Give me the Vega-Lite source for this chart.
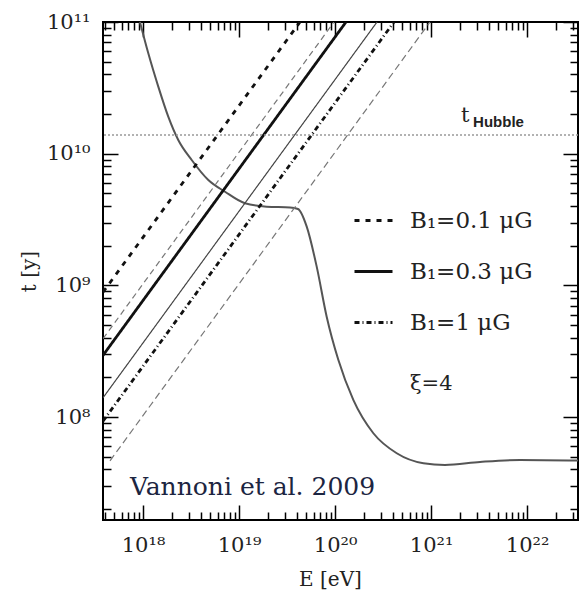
{
  "$schema": "https://vega.github.io/schema/vega-lite/v6.json",
  "width": 475,
  "height": 498,
  "autosize": {"type": "none"},
  "padding": {"left": 103, "top": 22, "right": 6, "bottom": 74},
  "background": "white",
  "config": {"view": {"stroke": "black", "strokeWidth": 2}, "font": "DejaVu Serif"},
  "datasets": {
    "lines": [
      {"line": "A", "style": "B₁=0.1 μG", "kind": "thick", "E": 3.83e17, "t": 8.87e8},
      {"line": "A", "style": "B₁=0.1 μG", "kind": "thick", "E": 4.315e19, "t": 1e11},
      {"line": "B", "style": "b0.1", "kind": "light", "E": 3.83e17, "t": 3.93e8},
      {"line": "B", "style": "b0.1", "kind": "light", "E": 9.75e19, "t": 1e11},
      {"line": "C", "style": "B₁=0.3 μG", "kind": "thick", "E": 3.83e17, "t": 2.94e8},
      {"line": "C", "style": "B₁=0.3 μG", "kind": "thick", "E": 1.30e20, "t": 1e11},
      {"line": "D", "style": "b0.3", "kind": "thin", "E": 3.83e17, "t": 1.40e8},
      {"line": "D", "style": "b0.3", "kind": "thin", "E": 2.735e20, "t": 1e11},
      {"line": "E", "style": "B₁=1 μG", "kind": "thick", "E": 3.83e17, "t": 9.31e7},
      {"line": "E", "style": "B₁=1 μG", "kind": "thick", "E": 4.11e20, "t": 1e11},
      {"line": "F", "style": "b1", "kind": "light", "E": 4.53e17, "t": 4.65e7},
      {"line": "F", "style": "b1", "kind": "light", "E": 9.75e20, "t": 1e11}
    ],
    "curve": [
      {"E": 9.29e17, "t": 1.0e11},
      {"E": 1.135e18, "t": 5.78e10},
      {"E": 1.442e18, "t": 3.23e10},
      {"E": 1.832e18, "t": 1.91e10},
      {"E": 2.328e18, "t": 1.27e10},
      {"E": 3.214e18, "t": 8.95e9},
      {"E": 4.786e18, "t": 6.31e9},
      {"E": 7.145e18, "t": 5.14e9},
      {"E": 1.153e19, "t": 4.20e9},
      {"E": 1.941e19, "t": 3.96e9},
      {"E": 3.396e19, "t": 3.91e9},
      {"E": 4.11e19, "t": 3.80e9},
      {"E": 5.07e19, "t": 2.79e9},
      {"E": 6.44e19, "t": 1.387e9},
      {"E": 8.18e19, "t": 5.78e8},
      {"E": 1.081e20, "t": 2.72e8},
      {"E": 1.549e20, "t": 1.349e8},
      {"E": 2.506e20, "t": 7.53e7},
      {"E": 4.39e20, "t": 5.31e7},
      {"E": 8.32e20, "t": 4.46e7},
      {"E": 1.396e21, "t": 4.33e7},
      {"E": 3.236e21, "t": 4.56e7},
      {"E": 8.45e21, "t": 4.72e7},
      {"E": 3.396e22, "t": 4.67e7}
    ]
  },
  "layer": [
    {
      "data": {"name": "curve"},
      "mark": {"type": "line", "color": "#555", "strokeWidth": 2, "interpolate": "monotone"},
      "encoding": {
        "x": {
          "field": "E", "type": "quantitative",
          "scale": {"type": "log", "domain": [3.83e17, 3.39e22], "nice": false},
          "axis": {
            "orient": "bottom",
            "values": [1e18, 1e19, 1e20, 1e21, 1e22],
            "labelExpr": "'10' + (round(log(datum.value)/LN10) >= 10 ? substring('⁰¹²³⁴⁵⁶⁷⁸⁹', floor(round(log(datum.value)/LN10)/10), floor(round(log(datum.value)/LN10)/10)+1) : '') + substring('⁰¹²³⁴⁵⁶⁷⁸⁹', round(log(datum.value)/LN10) % 10, round(log(datum.value)/LN10) % 10 + 1)",
            "ticks": true, "tickSize": -15, "tickColor": "black", "tickWidth": 1.5,
            "domain": false,
            "labelFont": "DejaVu Serif", "labelFontSize": 21, "labelColor": "#222",
            "labelPadding": 29, "labelOverlap": false, "labelFlush": false,
            "grid": false,
            "title": "E  [eV]", "titleFont": "DejaVu Serif", "titleFontSize": 20,
            "titleFontWeight": "normal", "titleColor": "#222", "titlePadding": 14,
            "titleX": 227
          }
        },
        "y": {
          "field": "t", "type": "quantitative",
          "scale": {"type": "log", "domain": [1.652e7, 1e11], "nice": false},
          "axis": {
            "orient": "left",
            "values": [1e8, 1e9, 1e10, 1e11],
            "labelExpr": "'10' + (round(log(datum.value)/LN10) >= 10 ? substring('⁰¹²³⁴⁵⁶⁷⁸⁹', floor(round(log(datum.value)/LN10)/10), floor(round(log(datum.value)/LN10)/10)+1) : '') + substring('⁰¹²³⁴⁵⁶⁷⁸⁹', round(log(datum.value)/LN10) % 10, round(log(datum.value)/LN10) % 10 + 1)",
            "ticks": true, "tickSize": -15, "tickColor": "black", "tickWidth": 1.5,
            "domain": false,
            "labelFont": "DejaVu Serif", "labelFontSize": 21, "labelColor": "#222",
            "labelPadding": 28, "labelOverlap": false, "labelFlush": false,
            "grid": false,
            "title": "t  [y]", "titleFont": "DejaVu Serif", "titleFontSize": 20,
            "titleFontWeight": "normal", "titleColor": "#222", "titlePadding": 7
          }
        }
      }
    },
    {
      "data": {"name": "curve"},
      "mark": {"type": "point", "opacity": 0},
      "encoding": {
        "x": {
          "field": "E", "type": "quantitative",
          "axis": {
            "orient": "bottom",
            "values": [4e17,5e17,6e17,7e17,8e17,9e17,2e18,3e18,4e18,5e18,6e18,7e18,8e18,9e18,2e19,3e19,4e19,5e19,6e19,7e19,8e19,9e19,2e20,3e20,4e20,5e20,6e20,7e20,8e20,9e20,2e21,3e21,4e21,5e21,6e21,7e21,8e21,9e21,2e22,3e22],
            "labels": false, "title": null, "grid": false, "domain": false,
            "tickSize": -8, "tickColor": "black", "tickWidth": 1.5
          }
        },
        "y": {
          "field": "t", "type": "quantitative",
          "axis": {
            "orient": "left",
            "values": [2e7,3e7,4e7,5e7,6e7,7e7,8e7,9e7,2e8,3e8,4e8,5e8,6e8,7e8,8e8,9e8,2e9,3e9,4e9,5e9,6e9,7e9,8e9,9e9,2e10,3e10,4e10,5e10,6e10,7e10,8e10,9e10],
            "labels": false, "title": null, "grid": false, "domain": false,
            "tickSize": -8, "tickColor": "black", "tickWidth": 1.5
          }
        }
      }
    },
    {
      "data": {"name": "curve"},
      "mark": {"type": "point", "opacity": 0},
      "encoding": {
        "x": {
          "field": "E", "type": "quantitative",
          "axis": {
            "orient": "top", "values": [1e18, 1e19, 1e20, 1e21, 1e22],
            "labels": false, "title": null, "grid": false, "domain": false,
            "tickSize": -15, "tickColor": "black", "tickWidth": 1.5
          }
        },
        "y": {
          "field": "t", "type": "quantitative",
          "axis": {
            "orient": "right", "values": [1e8, 1e9, 1e10, 1e11],
            "labels": false, "title": null, "grid": false, "domain": false,
            "tickSize": -15, "tickColor": "black", "tickWidth": 1.5
          }
        }
      }
    },
    {
      "data": {"name": "curve"},
      "mark": {"type": "point", "opacity": 0},
      "encoding": {
        "x": {
          "field": "E", "type": "quantitative",
          "axis": {
            "orient": "top",
            "values": [4e17,5e17,6e17,7e17,8e17,9e17,2e18,3e18,4e18,5e18,6e18,7e18,8e18,9e18,2e19,3e19,4e19,5e19,6e19,7e19,8e19,9e19,2e20,3e20,4e20,5e20,6e20,7e20,8e20,9e20,2e21,3e21,4e21,5e21,6e21,7e21,8e21,9e21,2e22,3e22],
            "labels": false, "title": null, "grid": false, "domain": false,
            "tickSize": -8, "tickColor": "black", "tickWidth": 1.5
          }
        },
        "y": {
          "field": "t", "type": "quantitative",
          "axis": {
            "orient": "right",
            "values": [2e7,3e7,4e7,5e7,6e7,7e7,8e7,9e7,2e8,3e8,4e8,5e8,6e8,7e8,8e8,9e8,2e9,3e9,4e9,5e9,6e9,7e9,8e9,9e9,2e10,3e10,4e10,5e10,6e10,7e10,8e10,9e10],
            "labels": false, "title": null, "grid": false, "domain": false,
            "tickSize": -8, "tickColor": "black", "tickWidth": 1.5
          }
        }
      }
    },
    {
      "data": {"name": "lines"},
      "mark": {"type": "line", "clip": true},
      "encoding": {
        "x": {"field": "E", "type": "quantitative", "axis": null},
        "y": {"field": "t", "type": "quantitative", "axis": null},
        "detail": {"field": "line"},
        "strokeDash": {
          "field": "style", "type": "nominal",
          "scale": {
            "domain": ["B₁=0.1 μG", "B₁=0.3 μG", "B₁=1 μG", "b0.1", "b0.3", "b1"],
            "range": [[5, 6], [1, 0], [5, 3, 1, 3], [6, 4], [1, 0], [7, 4]]
          },
          "legend": {
            "values": ["B₁=0.1 μG", "B₁=0.3 μG", "B₁=1 μG"],
            "title": null,
            "orient": "none",
            "legendX": 250,
            "legendY": 178,
            "symbolType": "stroke",
            "symbolSize": 1444,
            "symbolStrokeWidth": 3,
            "symbolStrokeColor": "#111",
            "labelFont": "DejaVu Serif",
            "labelFontSize": 23,
            "labelColor": "#222",
            "labelOffset": 16,
            "rowPadding": 18
          }
        },
        "color": {
          "condition": [
            {"test": "datum.kind === 'thick'", "value": "#111"},
            {"test": "datum.kind === 'thin'", "value": "#444"}
          ],
          "value": "#777"
        },
        "strokeWidth": {
          "condition": {"test": "datum.kind === 'thick'", "value": 2.8},
          "value": 1.2
        }
      }
    },
    {
      "data": {"values": [{"label": "t_Hubble"}]},
      "mark": {"type": "rule", "strokeDash": [2, 2], "color": "#999", "strokeWidth": 1.5},
      "encoding": {"y": {"datum": 1.387e10, "type": "quantitative", "axis": null}}
    },
    {
      "data": {"values": [{"label": "t"}]},
      "mark": {"type": "text", "font": "DejaVu Serif", "fontSize": 21, "align": "left", "baseline": "alphabetic", "color": "#222"},
      "encoding": {
        "text": {"field": "label"},
        "x": {"datum": 2.05e21, "type": "quantitative", "axis": null},
        "y": {"datum": 1.74e10, "type": "quantitative", "axis": null}
      }
    },
    {
      "data": {"values": [{"label": "Hubble"}]},
      "mark": {"type": "text", "font": "Liberation Sans", "fontWeight": "bold", "fontSize": 15, "align": "left", "baseline": "alphabetic", "color": "#222"},
      "encoding": {
        "text": {"field": "label"},
        "x": {"datum": 2.74e21, "type": "quantitative", "axis": null},
        "y": {"datum": 1.596e10, "type": "quantitative", "axis": null}
      }
    },
    {
      "data": {"values": [{"label": "ξ=4"}]},
      "mark": {"type": "text", "font": "DejaVu Serif", "fontSize": 21, "align": "left", "baseline": "alphabetic", "color": "#222"},
      "encoding": {
        "text": {"field": "label"},
        "x": {"datum": 6.04e20, "type": "quantitative", "axis": null},
        "y": {"datum": 1.607e8, "type": "quantitative", "axis": null}
      }
    },
    {
      "data": {"values": [{"label": "Vannoni et al. 2009"}]},
      "mark": {"type": "text", "font": "DejaVu Serif", "fontSize": 25, "align": "left", "baseline": "alphabetic", "color": "#1c2541"},
      "encoding": {
        "text": {"field": "label"},
        "x": {"datum": 7.31e17, "type": "quantitative", "axis": null},
        "y": {"datum": 2.56e7, "type": "quantitative", "axis": null}
      }
    }
  ],
  "resolve": {"axis": {"x": "independent", "y": "independent"}}
}
